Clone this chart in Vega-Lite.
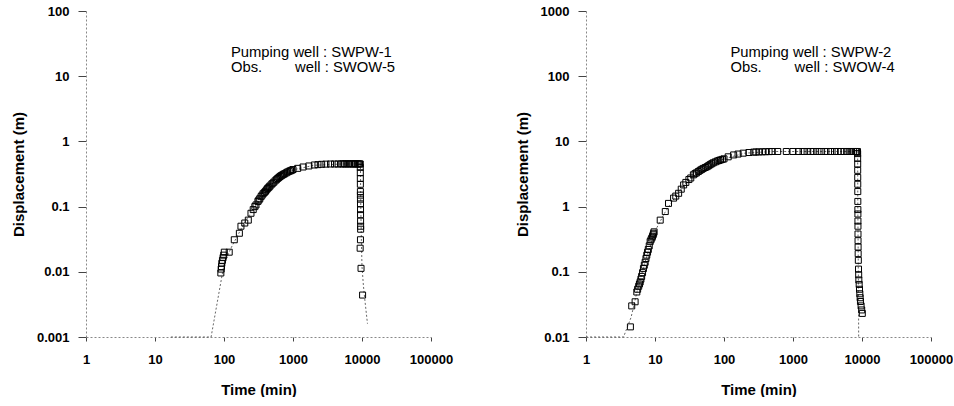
{
  "$schema": "https://vega.github.io/schema/vega-lite/v6.json",
  "background": "white",
  "padding": {"left": 11, "top": 5, "right": 0, "bottom": 0},
  "bounds": "flush",
  "spacing": 155,
  "config": {
    "view": {"stroke": null},
    "axis": {
      "labelFont": "Liberation Sans", "labelFontWeight": "bold", "labelFontSize": 13, "labelColor": "black",
      "titleFont": "Liberation Sans", "titleFontSize": 15, "titleFontWeight": "bold", "titleColor": "black",
      "domainColor": "#888", "domainDash": [2, 2], "tickColor": "#444", "grid": false, "labelBound": false, "labelOverlap": false, "labelFlush": false
    },
    "axisY": {"tickSize": 8, "labelPadding": 9, "titlePadding": 10},
    "axisX": {"tickSize": 4, "labelPadding": 12, "titlePadding": 16}
  },
  "hconcat": [
    {
      "width": 345, "height": 326,
      "layer": [
        {
          "data": {"values": [
            {"t": 17, "d": 0.001}, {"t": 65, "d": 0.001}, {"t": 81, "d": 0.0037}, {"t": 100, "d": 0.013}, {"t": 126, "d": 0.023},
            {"t": 200, "d": 0.058}, {"t": 300, "d": 0.11}, {"t": 500, "d": 0.225}, {"t": 1000, "d": 0.365}, {"t": 2000, "d": 0.43},
            {"t": 5000, "d": 0.45}, {"t": 9300, "d": 0.452}, {"t": 9500, "d": 0.44}, {"t": 9600, "d": 0.1}, {"t": 9800, "d": 0.03},
            {"t": 10000, "d": 0.012}, {"t": 10500, "d": 0.006}, {"t": 11000, "d": 0.0037}, {"t": 12000, "d": 0.0016}
          ]},
          "mark": {"type": "line", "color": "#555", "strokeWidth": 0.9, "strokeDash": [2, 2]},
          "encoding": {
            "x": {"field": "t", "type": "quantitative", "title": "Time (min)",
                  "scale": {"type": "log", "domain": [1, 100000], "nice": false},
                  "axis": {"values": [1, 10, 100, 1000, 10000, 100000], "format": "~g"}},
            "y": {"field": "d", "type": "quantitative", "title": "Displacement (m)",
                  "scale": {"type": "log", "domain": [0.001, 100], "nice": false},
                  "axis": {"values": [0.001, 0.01, 0.1, 1, 10, 100], "format": "~g"}}
          }
        },
        {
          "data": {"values": [
            {"t": 90, "d": 0.0096}, {"t": 91, "d": 0.011}, {"t": 92, "d": 0.012}, {"t": 93, "d": 0.0135}, {"t": 95, "d": 0.015},
            {"t": 97, "d": 0.0165}, {"t": 99, "d": 0.018}, {"t": 101, "d": 0.02}, {"t": 119, "d": 0.02}, {"t": 141, "d": 0.031},
            {"t": 167, "d": 0.039}, {"t": 176, "d": 0.05}, {"t": 200, "d": 0.056}, {"t": 225, "d": 0.062}, {"t": 246, "d": 0.079},
            {"t": 265, "d": 0.09}, {"t": 280, "d": 0.1}, {"t": 291, "d": 0.106}, {"t": 310, "d": 0.12}, {"t": 320, "d": 0.126}, {"t": 330, "d": 0.132},
            {"t": 344, "d": 0.142}, {"t": 357, "d": 0.15}, {"t": 370, "d": 0.158}, {"t": 385, "d": 0.165}, {"t": 400, "d": 0.172}, {"t": 415, "d": 0.181}, {"t": 429, "d": 0.19}, {"t": 445, "d": 0.197}, {"t": 460, "d": 0.205},
            {"t": 480, "d": 0.215}, {"t": 500, "d": 0.225}, {"t": 525, "d": 0.236}, {"t": 550, "d": 0.248}, {"t": 575, "d": 0.259}, {"t": 600, "d": 0.27}, {"t": 625, "d": 0.28}, {"t": 650, "d": 0.29}, {"t": 675, "d": 0.298}, {"t": 700, "d": 0.305},
            {"t": 730, "d": 0.313}, {"t": 760, "d": 0.32}, {"t": 800, "d": 0.33}, {"t": 837, "d": 0.34}, {"t": 880, "d": 0.348}, {"t": 920, "d": 0.355}, {"t": 960, "d": 0.362}, {"t": 1000, "d": 0.37}, {"t": 1170, "d": 0.386},
            {"t": 1400, "d": 0.405}, {"t": 1700, "d": 0.42}, {"t": 2040, "d": 0.435}, {"t": 2300, "d": 0.44}, {"t": 2600, "d": 0.445},
            {"t": 3000, "d": 0.448}, {"t": 3500, "d": 0.45}, {"t": 4000, "d": 0.45}, {"t": 4500, "d": 0.45}, {"t": 5000, "d": 0.452},
            {"t": 5300, "d": 0.452}, {"t": 5600, "d": 0.452}, {"t": 5900, "d": 0.452}, {"t": 6300, "d": 0.452}, {"t": 6600, "d": 0.452}, {"t": 7000, "d": 0.452}, {"t": 7400, "d": 0.452}, {"t": 7800, "d": 0.452}, {"t": 8100, "d": 0.452}, {"t": 8500, "d": 0.452},
            {"t": 8850, "d": 0.452}, {"t": 9200, "d": 0.452}, {"t": 9440, "d": 0.45}, {"t": 9440, "d": 0.4}, {"t": 9450, "d": 0.33}, {"t": 9460, "d": 0.27},
            {"t": 9470, "d": 0.22}, {"t": 9480, "d": 0.17}, {"t": 9490, "d": 0.15}, {"t": 9500, "d": 0.13}, {"t": 9510, "d": 0.11},
            {"t": 9520, "d": 0.09}, {"t": 9530, "d": 0.075}, {"t": 9540, "d": 0.06}, {"t": 9550, "d": 0.05}, {"t": 9560, "d": 0.045},
            {"t": 9500, "d": 0.031}, {"t": 9400, "d": 0.023}, {"t": 9680, "d": 0.0113}, {"t": 10200, "d": 0.0044}
          ]},
          "mark": {"type": "point", "shape": "square", "filled": false, "color": "black", "strokeWidth": 1, "size": 36, "opacity": 1},
          "encoding": {
            "x": {"field": "t", "type": "quantitative"},
            "y": {"field": "d", "type": "quantitative"}
          }
        },
        {
          "data": {"values": [
            {"t": 126, "d": 22.5, "label": "Pumping well : SWPW-1"},
            {"t": 126, "d": 13.4, "label": "Obs.\u00a0\u00a0\u00a0\u00a0\u00a0\u00a0\u00a0 well : SWOW-5"}
          ]},
          "mark": {"type": "text", "align": "left", "baseline": "middle", "font": "Liberation Sans", "fontSize": 14.8, "color": "black"},
          "encoding": {
            "x": {"field": "t", "type": "quantitative"},
            "y": {"field": "d", "type": "quantitative"},
            "text": {"field": "label"}
          }
        },
        {
          "mark": {"type": "rule", "color": "#888", "strokeDash": [2, 3]},
          "encoding": {"x": {"datum": 100000}}
        }
      ]
    },
    {
      "width": 345, "height": 326,
      "layer": [
        {
          "data": {"values": [
            {"t": 1, "d": 0.01}, {"t": 3.5, "d": 0.01}, {"t": 4.5, "d": 0.02}, {"t": 5.5, "d": 0.05}, {"t": 7, "d": 0.13}, {"t": 10, "d": 0.42},
            {"t": 14, "d": 0.82}, {"t": 20, "d": 1.45}, {"t": 30, "d": 2.5}, {"t": 50, "d": 3.85}, {"t": 100, "d": 5.4},
            {"t": 200, "d": 6.6}, {"t": 500, "d": 7.0}, {"t": 8500, "d": 7.0}, {"t": 8650, "d": 6.0}, {"t": 8700, "d": 1.0},
            {"t": 8800, "d": 0.2}, {"t": 8900, "d": 0.05}, {"t": 8950, "d": 0.01}
          ]},
          "mark": {"type": "line", "color": "#555", "strokeWidth": 0.9, "strokeDash": [2, 2]},
          "encoding": {
            "x": {"field": "t", "type": "quantitative", "title": "Time (min)",
                  "scale": {"type": "log", "domain": [1, 100000], "nice": false},
                  "axis": {"values": [1, 10, 100, 1000, 10000, 100000], "format": "~g"}},
            "y": {"field": "d", "type": "quantitative", "title": "Displacement (m)",
                  "scale": {"type": "log", "domain": [0.01, 1000], "nice": false},
                  "axis": {"values": [0.01, 0.1, 1, 10, 100, 1000], "format": "~g"}}
          }
        },
        {
          "data": {"values": [
            {"t": 4.4, "d": 0.0143}, {"t": 4.6, "d": 0.03}, {"t": 5.15, "d": 0.0347}, {"t": 5.45, "d": 0.049}, {"t": 5.6, "d": 0.054}, {"t": 5.8, "d": 0.06},
            {"t": 5.95, "d": 0.065}, {"t": 6.1, "d": 0.07}, {"t": 6.25, "d": 0.077}, {"t": 6.4, "d": 0.085}, {"t": 6.6, "d": 0.097}, {"t": 6.8, "d": 0.112}, {"t": 7.0, "d": 0.126}, {"t": 7.2, "d": 0.14}, {"t": 7.4, "d": 0.16}, {"t": 7.6, "d": 0.18},
            {"t": 7.8, "d": 0.2}, {"t": 8.0, "d": 0.22}, {"t": 8.25, "d": 0.25}, {"t": 8.5, "d": 0.29}, {"t": 8.75, "d": 0.31}, {"t": 9.0, "d": 0.33}, {"t": 9.2, "d": 0.35}, {"t": 9.4, "d": 0.37}, {"t": 9.55, "d": 0.39}, {"t": 9.7, "d": 0.41},
            {"t": 11.9, "d": 0.62}, {"t": 14.1, "d": 0.84}, {"t": 15.7, "d": 1.12}, {"t": 18.6, "d": 1.35}, {"t": 20, "d": 1.45},
            {"t": 22, "d": 1.6}, {"t": 24, "d": 1.85}, {"t": 26, "d": 2.15}, {"t": 28, "d": 2.35}, {"t": 31, "d": 2.6},
            {"t": 33, "d": 2.75}, {"t": 36, "d": 3.07}, {"t": 38, "d": 3.2}, {"t": 40, "d": 3.3}, {"t": 42.5, "d": 3.45}, {"t": 45, "d": 3.6}, {"t": 47.5, "d": 3.72}, {"t": 50, "d": 3.85},
            {"t": 53.5, "d": 3.98}, {"t": 57, "d": 4.1}, {"t": 60, "d": 4.25}, {"t": 63, "d": 4.4}, {"t": 66.5, "d": 4.55}, {"t": 70, "d": 4.7}, {"t": 75, "d": 4.85}, {"t": 80, "d": 5.0}, {"t": 84.5, "d": 5.1}, {"t": 89, "d": 5.2},
            {"t": 94.5, "d": 5.3}, {"t": 100, "d": 5.4}, {"t": 115, "d": 5.8}, {"t": 138, "d": 6.2}, {"t": 160, "d": 6.4}, {"t": 190, "d": 6.6},
            {"t": 230, "d": 6.75}, {"t": 270, "d": 6.85}, {"t": 290, "d": 6.87}, {"t": 320, "d": 6.9}, {"t": 360, "d": 6.92}, {"t": 400, "d": 6.95}, {"t": 450, "d": 6.97}, {"t": 500, "d": 7.0},
            {"t": 600, "d": 7.0}, {"t": 800, "d": 7.0}, {"t": 1000, "d": 7.0}, {"t": 1200, "d": 7.0}, {"t": 1400, "d": 7.0},
            {"t": 1600, "d": 7.0}, {"t": 1800, "d": 7.0}, {"t": 2000, "d": 7.0}, {"t": 2300, "d": 7.0}, {"t": 2600, "d": 7.0},
            {"t": 3000, "d": 7.0}, {"t": 3500, "d": 7.0}, {"t": 4000, "d": 7.0}, {"t": 4500, "d": 7.0}, {"t": 5000, "d": 7.0}, {"t": 5500, "d": 7.0}, {"t": 6000, "d": 7.0},
            {"t": 6500, "d": 7.0}, {"t": 7000, "d": 7.0}, {"t": 7500, "d": 7.0}, {"t": 8000, "d": 7.0}, {"t": 8300, "d": 7.0}, {"t": 8600, "d": 7.0},
            {"t": 8650, "d": 6.5}, {"t": 8650, "d": 5.5}, {"t": 8660, "d": 4.5}, {"t": 8660, "d": 3.6}, {"t": 8670, "d": 2.8},
            {"t": 8680, "d": 2.2}, {"t": 8690, "d": 1.7}, {"t": 8700, "d": 1.2}, {"t": 8710, "d": 0.9}, {"t": 8720, "d": 0.77},
            {"t": 8730, "d": 0.6}, {"t": 8740, "d": 0.5}, {"t": 8750, "d": 0.38}, {"t": 8760, "d": 0.3}, {"t": 8780, "d": 0.24},
            {"t": 8800, "d": 0.19}, {"t": 8850, "d": 0.15}, {"t": 8900, "d": 0.11}, {"t": 8950, "d": 0.09}, {"t": 9000, "d": 0.075},
            {"t": 9100, "d": 0.064}, {"t": 9200, "d": 0.054}, {"t": 9300, "d": 0.046}, {"t": 9400, "d": 0.04}, {"t": 9500, "d": 0.035},
            {"t": 9700, "d": 0.03}, {"t": 9900, "d": 0.026}, {"t": 10100, "d": 0.023}
          ]},
          "mark": {"type": "point", "shape": "square", "filled": false, "color": "black", "strokeWidth": 1, "size": 36, "opacity": 1},
          "encoding": {
            "x": {"field": "t", "type": "quantitative"},
            "y": {"field": "d", "type": "quantitative"}
          }
        },
        {
          "data": {"values": [
            {"t": 124, "d": 224, "label": "Pumping well : SWPW-2"},
            {"t": 124, "d": 133, "label": "Obs.\u00a0\u00a0\u00a0\u00a0\u00a0\u00a0\u00a0 well : SWOW-4"}
          ]},
          "mark": {"type": "text", "align": "left", "baseline": "middle", "font": "Liberation Sans", "fontSize": 14.8, "color": "black"},
          "encoding": {
            "x": {"field": "t", "type": "quantitative"},
            "y": {"field": "d", "type": "quantitative"},
            "text": {"field": "label"}
          }
        },
        {
          "mark": {"type": "rule", "color": "#888", "strokeDash": [2, 3]},
          "encoding": {"x": {"datum": 100000}}
        }
      ]
    }
  ]
}
